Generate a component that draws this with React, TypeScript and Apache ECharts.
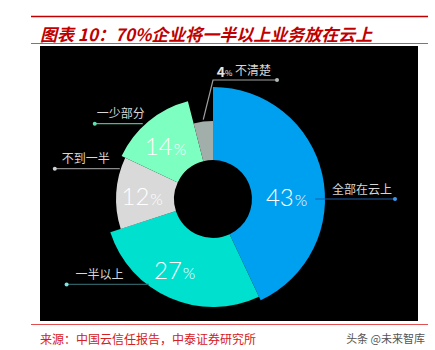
import React, { useEffect, useRef } from 'react';
import * as echarts from 'echarts';

// ---------- data ----------
const categories = ['全部在云上', '一半以上', '不到一半', '一少部分', '不清楚'];
const shares = [43, 27, 12, 14, 4];

const titleText = '图表 10：70%企业将一半以上业务放在云上';
const sourceText = '来源：中国云信任报告，中泰证券研究所';
const watermarkText = '头条 @未来智库';

// ---------- styles ----------
const FONT = "'Noto Sans CJK SC', 'Noto Sans', sans-serif";
const NUM_FONT = "Lato, 'Noto Sans', sans-serif";
const sliceColors = ['#00a0f0', '#00e0cf', '#d9d9d9', '#7dffc2', '#a2aeaa'];
const outerRadii = [112, 108, 97, 101, 78];
const innerRadius = 39;
const CX = 213;
const CY = 199;
const pctNudge = [[-3, 14], [-8, -1], [0, 0], [-1, 2], [0, 0]];

type Annot = {
  anchor: [number, number];
  elbow?: [number, number];
  run: number;
  pad: number;
  line: string;
  dot: string;
};
const annots: Annot[] = [
  { anchor: [90, 102], run: 80, pad: 5, line: '#1d5fa8', dot: '#3c96ee' },
  { anchor: [217, 107], run: -82, pad: 11, line: '#2f5f62', dot: '#7fe3e0' },
  { anchor: [288, 98], run: -65, pad: 9, line: '#8a8a8a', dot: '#d0d0d0' },
  { anchor: [317, 103], run: -48, pad: 4, line: '#3fbf8c', dot: '#5fe3ad' },
  { anchor: [353, 80], elbow: [0, 119], run: 64, pad: 8, line: '#a0a0a0', dot: '#b0bab6' },
];

const polar = (a: number, r: number): number[] => {
  const rad = (a * Math.PI) / 180;
  return [CX + r * Math.sin(rad), CY - r * Math.cos(rad)];
};

function buildOption(): any {
  const sliceSeries = shares.map((_, i) => ({
    type: 'pie',
    silent: true,
    emphasis: { disabled: true },
    center: [CX, CY],
    radius: [innerRadius, outerRadii[i]],
    startAngle: 90,
    clockwise: true,
    avoidLabelOverlap: false,
    z: 2,
    labelLine: { show: false },
    labelLayout: (p: any) =>
      p.dataIndex === i ? { dx: pctNudge[i][0], dy: pctNudge[i][1] } : {},
    data: shares.map((v, j) => ({
      value: v,
      name: categories[j],
      itemStyle: { color: j === i ? sliceColors[i] : 'transparent' },
      label: {
        show: j === i && i !== 4,
        position: 'inside',
        formatter: `{v|${v}}{p|%}`,
        rich: {
          v: { fontSize: 24, fontWeight: 300, color: '#ffffff', fontFamily: NUM_FONT, lineHeight: 26, verticalAlign: 'bottom' },
          p: { fontSize: 16, fontWeight: 300, color: '#ffffff', fontFamily: NUM_FONT, lineHeight: 26, verticalAlign: 'bottom', padding: [0, 0, 1, 1] },
        },
      },
    })),
  }));

  const labelSeries = {
    type: 'pie',
    silent: true,
    emphasis: { disabled: true },
    center: [CX, CY],
    radius: [innerRadius, 112],
    startAngle: 90,
    clockwise: true,
    avoidLabelOverlap: false,
    z: 3,
    labelLayout: (p: any) => {
      const an = annots[p.dataIndex];
      const p0 = polar(an.anchor[0], an.anchor[1]);
      const p1 = an.elbow ? polar(an.elbow[0], an.elbow[1]) : p0;
      const end = [p1[0] + an.run, p1[1]];
      const right = an.run > 0;
      return {
        x: right ? end[0] + 2 : end[0] - 2,
        y: end[1] + 2,
        align: right ? 'right' : 'left',
        verticalAlign: 'bottom',
        labelLinePoints: [p0, p1, end],
      };
    },
    data: shares.map((v, j) => {
      const an = annots[j];
      const right = an.run > 0;
      const namePad = right ? [0, an.pad, 0, 0] : [0, 0, 0, an.pad];
      const formatter =
        j === 4
          ? `{v|${v}}{p|%} {n|${categories[j]}}\n{d|}`
          : `{n|${categories[j]}}\n{d|}`;
      return {
        value: v,
        name: categories[j],
        itemStyle: { color: 'transparent' },
        label: {
          show: true,
          position: 'outside',
          formatter,
          rich: {
            n: { fontSize: 12, color: '#d6d6d6', fontFamily: FONT, lineHeight: 18, padding: namePad },
            v: { fontSize: 14, fontWeight: 'bold', color: '#e6e6e6', fontFamily: FONT, lineHeight: 18, verticalAlign: 'bottom' },
            p: { fontSize: 8, color: '#e6e6e6', fontFamily: FONT, lineHeight: 18, verticalAlign: 'bottom', padding: [0, 0, 2, 0] },
            d: {
              width: 4,
              height: 4,
              lineHeight: 4,
              backgroundColor: an.dot,
              borderRadius: 2,
              align: right ? 'right' : 'left',
            },
          },
        },
        labelLine: { show: true, lineStyle: { color: an.line, width: 1.2 } },
      };
    }),
  };

  return {
    animation: false,
    backgroundColor: '#ffffff',
    textStyle: { fontFamily: FONT },
    graphic: [
      { type: 'line', z: 0, shape: { x1: 31, y1: 16.5, x2: 428, y2: 16.5 }, style: { stroke: '#c00000', lineWidth: 1.5 } },
      {
        type: 'text',
        z: 0,
        x: 40,
        y: 33,
        style: {
          text: titleText,
          fill: '#c00000',
          fontSize: 17,
          fontWeight: 'bold',
          fontStyle: 'italic',
          fontFamily: FONT,
          verticalAlign: 'middle',
        },
      },
      { type: 'line', z: 0, shape: { x1: 31, y1: 43.5, x2: 428, y2: 43.5 }, style: { stroke: '#d65050', lineWidth: 1 } },
      { type: 'rect', z: 0, shape: { x: 40, y: 46, width: 378, height: 275 }, style: { fill: '#000000' } },
      { type: 'line', z: 0, shape: { x1: 31, y1: 324.5, x2: 428, y2: 324.5 }, style: { stroke: '#e05050', lineWidth: 1.2 } },
      {
        type: 'text',
        z: 0,
        x: 40,
        y: 338,
        style: { text: sourceText, fill: '#d42020', fontSize: 12, fontFamily: FONT, verticalAlign: 'middle' },
      },
      {
        type: 'text',
        z: 0,
        x: 425,
        y: 338,
        style: { text: watermarkText, fill: '#555555', fontSize: 11, fontFamily: FONT, align: 'right', verticalAlign: 'middle' },
      },
    ],
    series: [...sliceSeries, labelSeries],
  };
}

export default function App() {
  const ref = useRef<HTMLDivElement>(null);
  useEffect(() => {
    if (!ref.current) return;
    const chart = echarts.init(ref.current, undefined, { renderer: 'svg' });
    chart.setOption(buildOption());
    return () => chart.dispose();
  }, []);
  return (
    <div
      ref={ref}
      style={{ position: 'fixed', left: 0, top: 0, width: 435, height: 350, background: '#fff' }}
    />
  );
}
